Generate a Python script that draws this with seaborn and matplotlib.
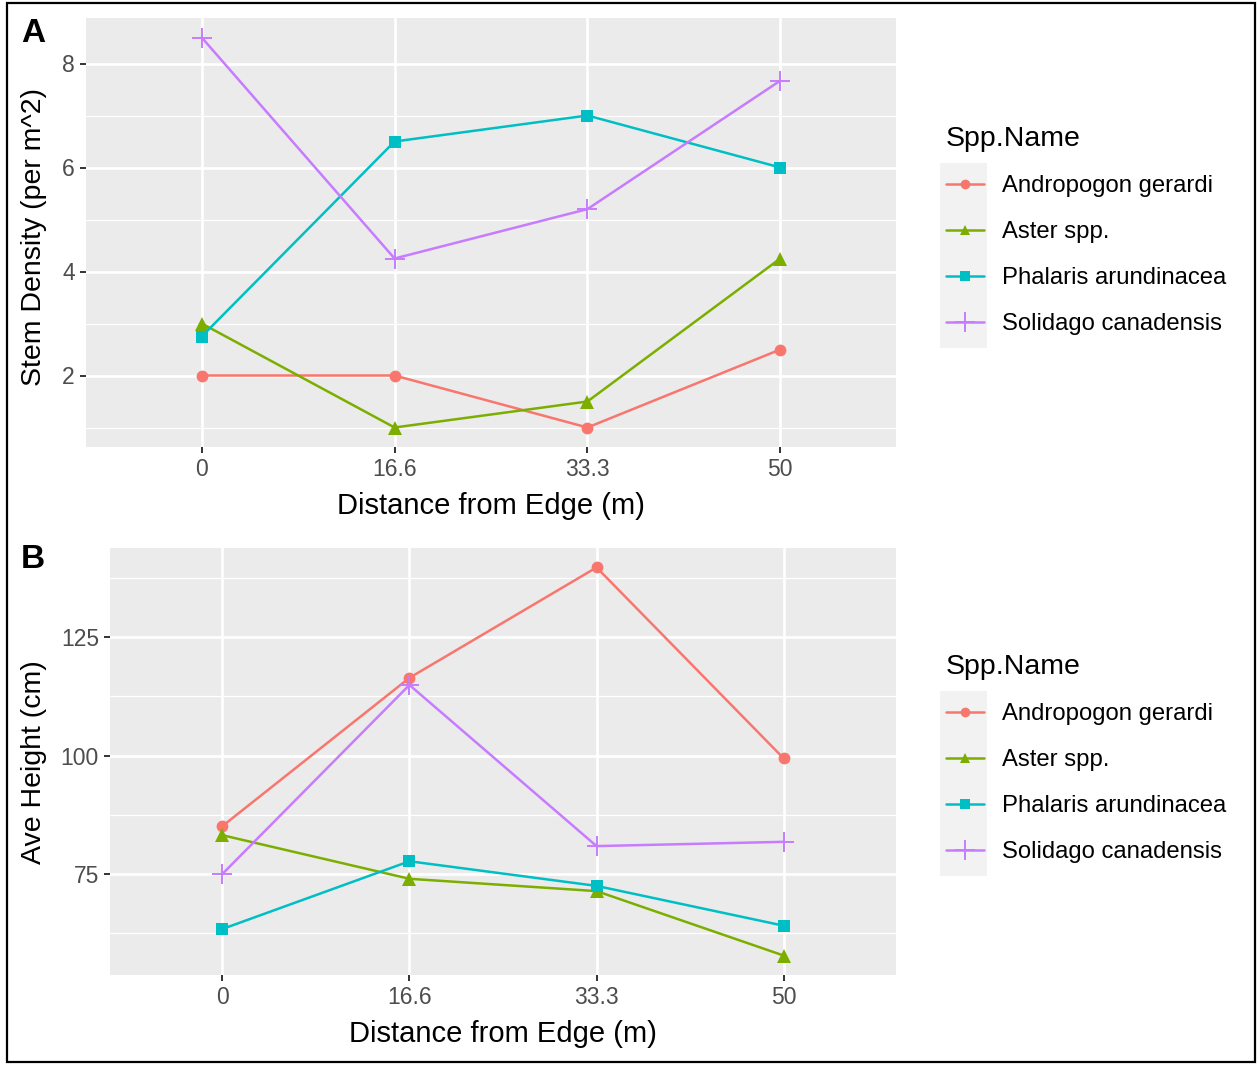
import matplotlib
matplotlib.use("Agg")
import matplotlib.pyplot as plt
from matplotlib.patches import Rectangle
from matplotlib.lines import Line2D
from matplotlib.ticker import FixedLocator
import seaborn as sns
import pandas as pd

# ---------------- data ----------------
distances = ["0", "16.6", "33.3", "50"]
species = ["Andropogon gerardi", "Aster spp.", "Phalaris arundinacea", "Solidago canadensis"]

density_andropogon = [2.0, 2.0, 1.0, 2.5]
density_aster = [3.0, 1.0, 1.5, 4.25]
density_phalaris = [2.75, 6.5, 7.0, 6.0]
density_solidago = [8.5, 4.25, 5.2, 7.67]

height_andropogon = [85.1, 116.4, 139.7, 99.4]
height_aster = [83.2, 74.0, 71.4, 57.8]
height_phalaris = [63.4, 77.7, 72.5, 64.1]
height_solidago = [75.0, 114.9, 80.9, 81.8]

density_ticks = [2, 4, 6, 8]
density_minor = [1, 3, 5, 7]
height_ticks = [75, 100, 125]
height_minor = [62.5, 87.5, 112.5, 137.5]

colors = ["#F8766D", "#7CAE00", "#00BFC4", "#C77CFF"]
markers = ["o", "^", "s", "+"]


def long_frame(series_list, value_name):
    rows = []
    for sp, vals in zip(species, series_list):
        for d, v in zip(distances, vals):
            rows.append({"Distance": d, "Spp.Name": sp, value_name: v})
    return pd.DataFrame(rows)


df_a = long_frame([density_andropogon, density_aster, density_phalaris, density_solidago], "Density")
df_b = long_frame([height_andropogon, height_aster, height_phalaris, height_solidago], "Height")

# ---------------- style ----------------
sns.set_theme(style="darkgrid")
plt.rcParams["font.family"] = ["Liberation Sans", "DejaVu Sans"]
plt.rcParams["text.color"] = "black"

W, H = 1259, 1067
fig = plt.figure(figsize=(W / 100, H / 100), dpi=100)
fig.patch.set_facecolor("white")


def fx(px):
    return px / W


def fy(py):
    return 1 - py / H


def marker_kw(m, c):
    if m == "+":
        return dict(markersize=15, markeredgewidth=1.4, markeredgecolor=c)
    if m == "^":
        return dict(markersize=9.5, markeredgewidth=0, markerfacecolor=c)
    return dict(markersize=8.5, markeredgewidth=0, markerfacecolor=c)


def style_axes(ax, minor, ylabel):
    ax.set_facecolor("#EBEBEB")
    for s in ax.spines.values():
        s.set_visible(False)
    ax.set_xlim(-0.6, 3.6)
    ax.yaxis.set_minor_locator(FixedLocator(minor))
    ax.grid(True, which="major", color="white", linewidth=1.9)
    ax.grid(True, which="minor", axis="y", color="white", linewidth=0.9)
    ax.grid(False, which="minor", axis="x")
    ax.tick_params(axis="both", which="major", length=4, width=1.4, color="#333333",
                   labelcolor="#4D4D4D", labelsize=16.5, pad=4, bottom=True, left=True)
    ax.tick_params(axis="both", which="minor", length=0)
    ax.set_xlabel("Distance from Edge (m)", fontsize=21, color="black", labelpad=8)
    ax.set_ylabel(ylabel, fontsize=20.5, color="black")
    ax.set_axisbelow(True)


def draw_panel(ax, df, yname):
    for sp, c, m in zip(species, colors, markers):
        sub = df[df["Spp.Name"] == sp]
        sns.lineplot(data=sub, x="Distance", y=yname, color=c, marker=m, sort=False,
                     linewidth=1.8, ax=ax, legend=False, **marker_kw(m, c))


def add_legend(ax, top_px):
    fig.patches.append(Rectangle((fx(940), fy(top_px + 185)), fx(987) - fx(940),
                                 185 / H, transform=fig.transFigure,
                                 facecolor="#F2F2F2", edgecolor="none", zorder=-1))
    handles = []
    for c, m in zip(colors, markers):
        kw = marker_kw(m, c)
        if m == "+":
            kw["markersize"] = 14
        else:
            kw["markersize"] = 7
        handles.append(Line2D([], [], color=c, marker=m, linewidth=1.8, **kw))
    leg = ax.legend(handles, species, title="Spp.Name", loc="upper left",
                    bbox_to_anchor=(fx(936), fy(top_px - 47)), bbox_transform=fig.transFigure,
                    frameon=False, fontsize=17.2, title_fontsize=20.5, handlelength=1.6,
                    handletextpad=0.76, labelspacing=1.0, borderaxespad=0)
    leg._legend_box.align = "left"
    for t in leg.get_texts():
        t.set_color("black")
    leg.get_title().set_color("black")
    return leg


# ---------------- panel A ----------------
ax_a = fig.add_axes([fx(86), fy(447), fx(896) - fx(86), (447 - 18) / H])
draw_panel(ax_a, df_a, "Density")
ax_a.set_ylim(0.625, 8.875)
ax_a.set_yticks(density_ticks)
style_axes(ax_a, density_minor, "Stem Density (per m^2)")
ax_a.yaxis.set_label_coords(fx(47), fy(237), transform=fig.transFigure)
add_legend(ax_a, 163)

# ---------------- panel B ----------------
ax_b = fig.add_axes([fx(110), fy(975), fx(896) - fx(110), (975 - 548) / H])
draw_panel(ax_b, df_b, "Height")
ax_b.set_ylim(53.7, 143.8)
ax_b.set_yticks(height_ticks)
style_axes(ax_b, height_minor, "Ave Height (cm)")
ax_b.yaxis.set_label_coords(fx(47), fy(762), transform=fig.transFigure)
add_legend(ax_b, 691)

# panel letters
fig.text(fx(21), fy(33), "A", fontsize=24, fontweight="bold", va="center", ha="left", color="black")
fig.text(fx(21), fy(560), "B", fontsize=24, fontweight="bold", va="center", ha="left", color="black")

# outer frame
fig.patches.append(Rectangle((fx(7), fy(1062)), fx(1255) - fx(7), (1062 - 3) / H,
                             transform=fig.transFigure, facecolor="none",
                             edgecolor="black", linewidth=1.6, zorder=10))

fig.savefig("out.png", dpi=100)
